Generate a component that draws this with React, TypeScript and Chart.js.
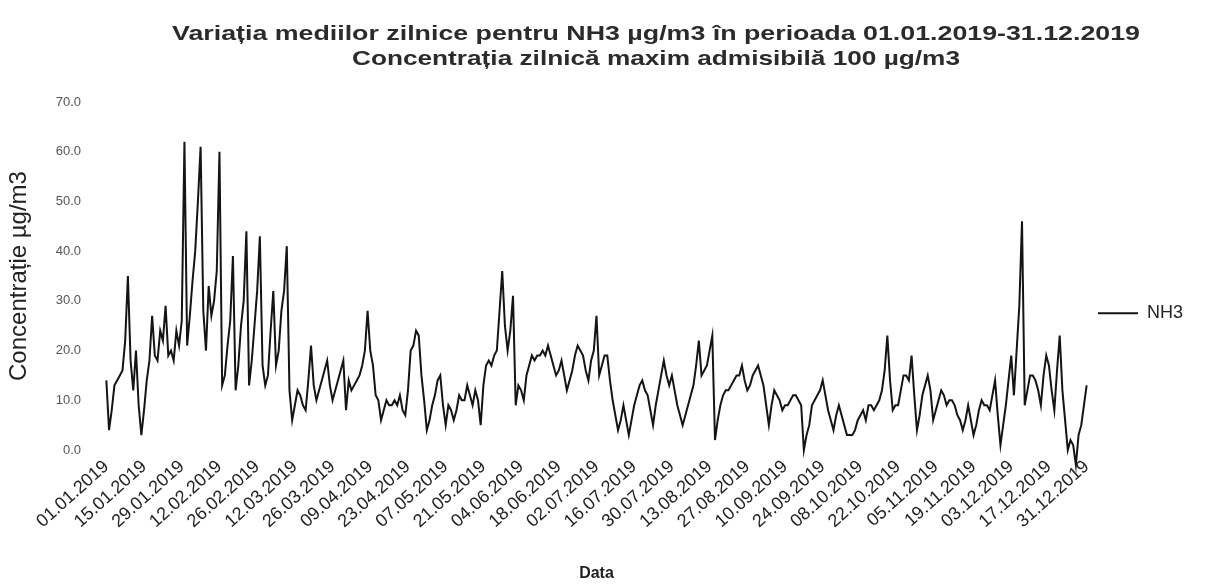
import React, { useEffect, useRef } from "react";
import { Chart, registerables } from "chart.js";

Chart.register(...registerables);

const TITLE_LINES = [
  "Variația mediilor zilnice pentru NH3 µg/m3 în perioada 01.01.2019-31.12.2019",
  "Concentrația zilnică maxim admisibilă 100 µg/m3",
];
const SERIES_LABEL = "NH3";
const Y_TITLE = "Concentrație µg/m3";
const X_TITLE = "Data";
const Y_TICKS = [0, 10, 20, 30, 40, 50, 60, 70];
const TICK_LABELS = [
  "01.01.2019", "15.01.2019", "29.01.2019", "12.02.2019", "26.02.2019", "12.03.2019",
  "26.03.2019", "09.04.2019", "23.04.2019", "07.05.2019", "21.05.2019", "04.06.2019",
  "18.06.2019", "02.07.2019", "16.07.2019", "30.07.2019", "13.08.2019", "27.08.2019",
  "10.09.2019", "24.09.2019", "08.10.2019", "22.10.2019", "05.11.2019", "19.11.2019",
  "03.12.2019", "17.12.2019", "31.12.2019",
];
const TICK_EVERY = 14;

// daily means, 01.01.2019 - 31.12.2019
const NH3 = [
  14, 4, 8, 13, 14, 15, 16, 22, 35, 18,
  12, 20, 9, 3, 8, 14, 18, 27, 19, 18,
  24, 22, 29, 19, 20, 18, 24, 21, 26, 62,
  21, 27, 34, 40, 50, 61, 28, 20, 33, 27,
  30, 36, 60, 13, 15, 21, 26, 39, 12, 17,
  25, 30, 44, 13, 18, 25, 32, 43, 17, 13,
  15, 24, 32, 17, 20, 28, 32, 41, 12, 6,
  9, 12, 11, 9, 8, 14, 21, 13, 10, 12,
  14, 16, 18, 13, 10, 12, 14, 16, 18, 8,
  14, 12, 13, 14, 15, 17, 20, 28, 20, 17,
  11, 10, 6, 8, 10, 9, 9, 10, 9, 11,
  8, 7, 12, 20, 21, 24, 23, 15, 10, 4,
  6, 9, 11, 14, 15, 9, 5, 9, 8, 6,
  8, 11, 10, 10, 13, 11, 9, 12, 10, 5,
  13, 17, 18, 17, 19, 20, 28, 36, 25, 20,
  24, 31, 9, 13, 12, 10, 15, 17, 19, 18,
  19, 19, 20, 19, 21, 19, 17, 15, 16, 18,
  15, 12, 14, 16, 19, 21, 20, 19, 16, 14,
  18, 20, 27, 15, 17, 19, 19, 14, 10, 7,
  4, 6, 9, 6, 3, 6, 9, 11, 13, 14,
  12, 11, 8, 5, 9, 12, 15, 18, 15, 13,
  15, 12, 9, 7, 5, 7, 9, 11, 13, 17,
  22, 15, 16, 17, 20, 23, 2, 6, 9, 11,
  12, 12, 13, 14, 15, 15, 17, 14, 12, 13,
  15, 16, 17, 15, 13, 9, 5, 9, 12, 11,
  10, 8, 9, 9, 10, 11, 11, 10, 9, 0,
  3, 5, 9, 10, 11, 12, 14, 11, 8, 6,
  4, 7, 9, 7, 5, 3, 3, 3, 4, 6,
  7, 8, 6, 9, 9, 8, 9, 10, 12, 16,
  23, 14, 8, 9, 9, 12, 15, 15, 14, 19,
  11, 4, 7, 11, 13, 15, 12, 6, 8, 10,
  12, 11, 9, 10, 10, 9, 7, 6, 4, 6,
  9, 6, 3, 5, 8, 10, 9, 9, 8, 11,
  14, 7, 1, 5, 9, 14, 19, 11, 20, 29,
  46, 9, 12, 15, 15, 14, 12, 9, 15, 19,
  17, 12, 8, 16, 23, 12, 6, 0, 2, 1,
  -3, 3, 5, 9, 13,
];

function dayLabels(n: number): string[] {
  const out: string[] = [];
  const start = Date.UTC(2019, 0, 1);
  for (let i = 0; i < n; i++) {
    const d = new Date(start + i * 86400000);
    const dd = String(d.getUTCDate()).padStart(2, "0");
    const mm = String(d.getUTCMonth() + 1).padStart(2, "0");
    out.push(`${dd}.${mm}.${d.getUTCFullYear()}`);
  }
  return out;
}

const FONT = '"Liberation Sans", Arial, sans-serif';

const fittedTitle = {
  id: "fittedTitle",
  afterDraw(chart: any) {
    const ctx = chart.ctx as CanvasRenderingContext2D;
    const specs = [
      { text: TITLE_LINES[0], y: 34, w: 968 },
      { text: TITLE_LINES[1], y: 59, w: 608 },
    ];
    ctx.save();
    ctx.font = `bold 21px ${FONT}`;
    ctx.fillStyle = "#2b2b2b";
    ctx.textAlign = "center";
    ctx.textBaseline = "middle";
    for (const s of specs) {
      const m = ctx.measureText(s.text).width;
      ctx.save();
      ctx.translate(656, s.y);
      ctx.scale(s.w / m, 1);
      ctx.fillText(s.text, 0, 0);
      ctx.restore();
    }
    ctx.restore();
  },
};

export default function App() {
  const ref = useRef<HTMLCanvasElement | null>(null);

  useEffect(() => {
    if (!ref.current) return;
    const labels = dayLabels(NH3.length);
    const chart = new Chart(ref.current, {
      type: "line",
      data: {
        labels,
        datasets: [
          {
            label: SERIES_LABEL,
            data: NH3,
            borderColor: "#141414",
            backgroundColor: "#141414",
            borderWidth: 2,
            pointRadius: 0,
            pointHoverRadius: 0,
            tension: 0,
            clip: false as any,
          },
        ],
      },
      options: {
        responsive: false,
        animation: false,
        events: [],
        layout: { padding: { top: 102, right: 16, bottom: 0, left: 0 } },
        plugins: {
          title: { display: false },
          tooltip: { enabled: false },
          legend: {
            display: true,
            position: "right",
            fullSize: false,
            title: {
              display: true,
              text: " ",
              font: { size: 12, family: FONT },
              padding: { top: 60, bottom: 0 },
            },
            labels: {
              boxWidth: 40,
              boxHeight: 0,
              padding: 10,
              color: "#222",
              font: { size: 18, family: FONT },
            },
          },
        },
        scales: {
          x: {
            type: "category",
            offset: true,
            grid: { display: false, drawTicks: false },
            border: { display: false },
            ticks: {
              autoSkip: false,
              minRotation: 42,
              maxRotation: 42,
              padding: 6,
              color: "#222",
              font: { size: 18, family: FONT },
              callback: (_v: any, i: number) =>
                i % TICK_EVERY === 0 ? TICK_LABELS[i / TICK_EVERY] : null,
            },
            title: {
              display: true,
              text: X_TITLE,
              color: "#222",
              font: { size: 16, weight: "bold", family: FONT },
              padding: { top: 0, bottom: 4 },
            },
            afterFit: (s: any) => {
              s.height = 137;
            },
          },
          y: {
            min: 0,
            max: 70,
            grid: { display: false, drawTicks: false },
            border: { display: false },
            afterBuildTicks: (s: any) => {
              s.ticks = Y_TICKS.map((v) => ({ value: v }));
            },
            ticks: {
              padding: 24,
              color: "#555",
              font: { size: 13, family: FONT },
              callback: (v: any) => Number(v).toFixed(1),
            },
            title: {
              display: true,
              text: Y_TITLE,
              color: "#222",
              font: { size: 24, family: FONT },
              padding: { top: 5, bottom: 0 },
            },
            afterFit: (s: any) => {
              s.width = 105;
            },
          },
        },
      },
      plugins: [fittedTitle],
    });
    return () => chart.destroy();
  }, []);

  return (
    <div
      style={{
        position: "fixed",
        left: 0,
        top: 0,
        width: 1209,
        height: 587,
        background: "#fff",
      }}
    >
      <canvas ref={ref} width={1209} height={587} style={{ display: "block" }} />
    </div>
  );
}
